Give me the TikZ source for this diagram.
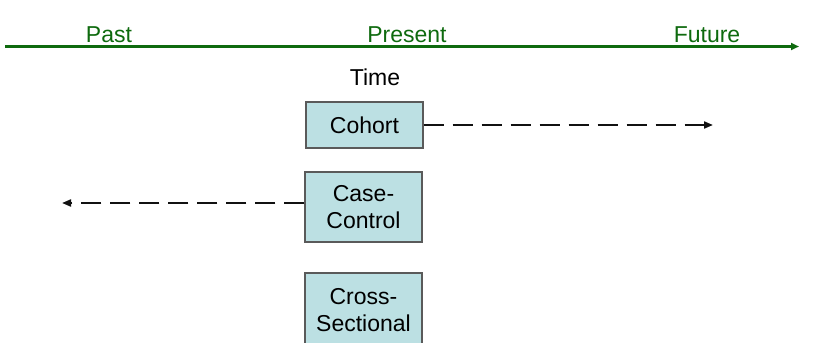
\documentclass[tikz,border=0pt]{standalone}
\usepackage{fontspec}
\setmainfont{Liberation Sans}
\usepackage{tikz}
\usetikzlibrary{positioning,arrows.meta}
\definecolor{timegreen}{HTML}{0E6A0E}
\definecolor{boxfill}  {HTML}{BCE0E3}
\definecolor{boxdraw}  {HTML}{5A5A5A}
\definecolor{ink}      {HTML}{111111}
\tikzset{
  every node/.style={font=\fontsize{23}{27}\selectfont},
  % --- nodes
  study/.style = {draw=boxdraw, fill=boxfill, line width=1.2pt, align=center,
                  inner sep=0pt, text width=117pt, minimum width=117pt},
  era/.style   = {text=timegreen, anchor=base, inner sep=0pt},
  % --- edges
  axis/.style  = {-{Triangle[length=8pt,width=7pt]}, line width=3pt, draw=timegreen},
  reach/.style = {-{Triangle[length=9pt,width=7pt]}, line width=2pt, draw=ink,
                  dash pattern=on 20pt off 9pt},
}
\begin{document}
\begin{tikzpicture}[x=1pt,y=-1pt]
  \useasboundingbox (0,0) rectangle (820,343);
  \clip (0,0) rectangle (820,343);
  % time axis
  \coordinate (t0) at (5,46.5);
  \coordinate (t1) at (799,46.5);
  \draw[axis] (t0) -- (t1);
  \node[era] (past)    at (109,42) {Past};
  \node[era] (present) at (407,42) {Present};
  \node[era] (future)  at (707,42) {Future};
  \node[anchor=base, inner sep=0pt] (time) at (375,85) {Time};
  % study designs
  \node[study, minimum height=46pt]  (cohort) at (364.5,125) {Cohort};
  \node[study, minimum height=70pt]  (cc)     at (363.5,207) {Case-\\Control};
  \node[study, minimum height=74pt]  (cs)     at (363.5,310) {Cross-\\Sectional};
  \coordinate (fwd)  at (713,125);
  \coordinate (back) at (62,203);
  \draw[reach] (cohort.east) -- (fwd);
  \draw[reach] (cc.west |- back) -- (back);
\end{tikzpicture}
\end{document}
